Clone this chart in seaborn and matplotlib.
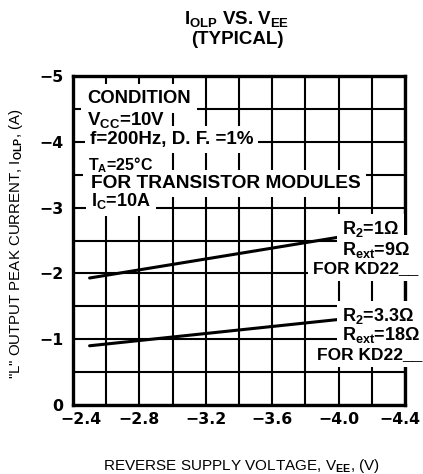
import numpy as np
import pandas as pd
import matplotlib
matplotlib.use("Agg")
import matplotlib.pyplot as plt
from matplotlib.transforms import ScaledTranslation
import seaborn as sns

# ---- data ----
vee_points = [-2.5, -4.0]
iolp_r1 = [-1.93, -2.55]      # R2=1 ohm, Rext=9 ohm, for KD22
iolp_r33 = [-0.90, -1.30]     # R2=3.3 ohm, Rext=18 ohm, for KD22
series_names = ["R2=1", "R2=3.3"]

x_ticks = [-2.4, -2.8, -3.2, -3.6, -4.0, -4.4]
x_ticklabels = ["\u22122.4", "\u22122.8", "\u22123.2", "\u22123.6", "\u22124.0", "\u22124.4"]
x_minor = [-2.4, -2.6, -2.8, -3.0, -3.2, -3.4, -3.6, -3.8, -4.0, -4.2, -4.4]
y_ticks = [0, -1, -2, -3, -4, -5]
y_ticklabels = ["0", "\u22121", "\u22122", "\u22123", "\u22124", "\u22125"]
y_minor = [0, -0.5, -1, -1.5, -2, -2.5, -3, -3.5, -4, -4.5, -5]

df = pd.DataFrame({
    "VEE": vee_points * 2,
    "IOLP": iolp_r1 + iolp_r33,
    "series": [series_names[0]] * 2 + [series_names[1]] * 2,
})

sns.set_style("white")
plt.rcParams["font.family"] = ["Liberation Sans", "DejaVu Sans"]
plt.rcParams["mathtext.fontset"] = "custom"
plt.rcParams["mathtext.rm"] = "Liberation Sans"
plt.rcParams["mathtext.bf"] = "Liberation Sans:bold"
plt.rcParams["mathtext.default"] = "bf"
plt.rcParams["text.color"] = "black"
plt.rcParams["axes.labelcolor"] = "black"
plt.rcParams["xtick.color"] = "black"
plt.rcParams["ytick.color"] = "black"

fig = plt.figure(figsize=(4.23, 4.74), dpi=100)
ax = fig.add_axes([73 / 423, 1 - 405 / 474, 332 / 423, 329 / 474])

sns.lineplot(data=df, x="VEE", y="IOLP", hue="series", units="series",
             estimator=None, palette=["black", "black"], legend=False,
             linewidth=2.2, ax=ax, zorder=2.6)

ax.set_xlim(-2.4, -4.4)
ax.set_ylim(0, -5)

tick_font = dict(family="DejaVu Sans", weight="bold", size=11.3)
ax.set_xticks(x_ticks)
ax.set_xticklabels(x_ticklabels, **tick_font)
ax.set_xticks(x_minor, minor=True)
ax.set_yticks(y_ticks)
ax.set_yticklabels(y_ticklabels, **tick_font)
ax.set_yticks(y_minor, minor=True)
ax.tick_params(which="both", length=0, colors="black")
ax.tick_params(axis="x", pad=5)
ax.tick_params(axis="y", pad=7)
xlabels = ax.get_xticklabels()
xlabels[0].set_transform(xlabels[0].get_transform() + ScaledTranslation(8 / 100, 0, fig.dpi_scale_trans))
xlabels[-1].set_transform(xlabels[-1].get_transform() + ScaledTranslation(-5 / 100, 0, fig.dpi_scale_trans))

ax.set_axisbelow(True)
ax.grid(which="both", color="black", linewidth=1.5)
for s in ax.spines.values():
    s.set_visible(True)
    s.set_color("black")
    s.set_linewidth(2.4)

ax.set_xlabel("REVERSE SUPPLY VOLTAGE, V$_{EE}$, (V)", fontsize=11)
ax.xaxis.set_label_coords(0.506, -0.158)
ax.set_ylabel("\"L\" OUTPUT PEAK CURRENT, I$_{OLP}$, (A)", fontsize=10.8)
ax.yaxis.set_label_coords(-0.145, 0.49)

fig.text(237 / 423, 1 - 19 / 474, "I$_{OLP}$ VS. V$_{EE}$", ha="center", va="center",
         fontsize=13.5, fontweight="bold")
fig.text(237 / 423, 1 - 39 / 474, "(TYPICAL)", ha="center", va="center",
         fontsize=13.5, fontweight="bold")


def note(x, y, s, size=13, pad=3.5):
    # white backing that hides the grid behind the text
    ax.text(x, y, s, ha="left", va="center", fontsize=size, fontweight="bold",
            color="none",
            bbox=dict(facecolor="white", edgecolor="none", pad=pad),
            zorder=4, clip_on=False)
    # the text itself, above every backing
    ax.text(x, y, s, ha="left", va="center", fontsize=size, fontweight="bold",
            color="black", zorder=5, clip_on=False)


note(-2.484, -4.66, "CONDITION", 13.3, 4.5)
note(-2.484, -4.33, "V$_{CC}$=10V", 13.5)
note(-2.50, -4.04, "f=200Hz, D. F. =1%", 13.5)
note(-2.49, -3.65, "T$_{A}$=25\u00b0C", 11.5)
note(-2.51, -3.37, "FOR TRANSISTOR MODULES", 13.8)
note(-2.51, -3.10, "I$_{C}$=10A", 13)

note(-4.02, -2.67, "R$_{2}$=1\u03a9", 13)
note(-4.02, -2.36, "R$_{ext}$=9\u03a9", 13)
note(-3.845, -2.07, "FOR KD22__", 12.5)
note(-4.02, -1.35, "R$_{2}$=3.3\u03a9", 13)
note(-4.02, -1.06, "R$_{ext}$=18\u03a9", 13)
note(-3.87, -0.76, "FOR KD22__", 12.5)

fig.savefig("out.png", dpi=100)
